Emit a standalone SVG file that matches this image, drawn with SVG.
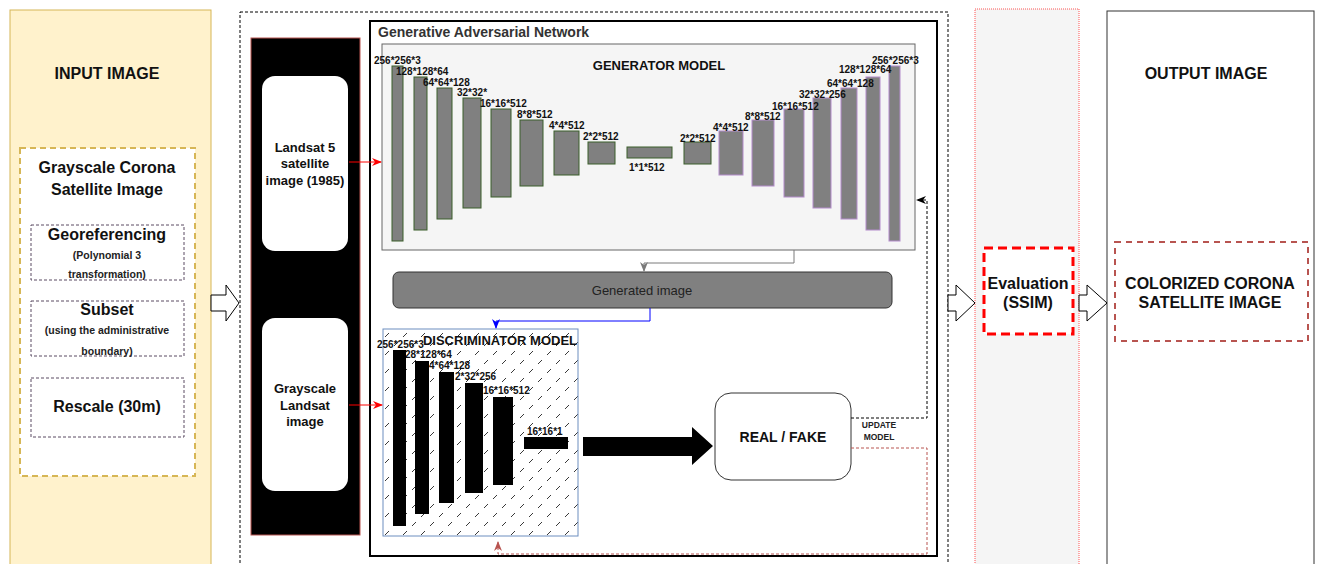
<svg xmlns="http://www.w3.org/2000/svg" width="1319" height="564" viewBox="0 0 1319 564">
<defs>
<style>
text{font-family:"Liberation Sans",Arial,sans-serif;}
.t16{font-size:16px;font-weight:bold;fill:#111;text-anchor:middle}
.t14{font-size:14px;font-weight:bold;fill:#111;text-anchor:middle}
.t13{font-size:13px;font-weight:bold;fill:#111;text-anchor:middle}
.t10{font-size:10.5px;font-weight:bold;fill:#222;text-anchor:middle}
.dim{font-size:10px;font-weight:bold;fill:#111}
.enc{fill:#808080;stroke:#3b5e2b;stroke-width:1}
.dec{fill:#808080;stroke:#b48ccc;stroke-width:1}
.dbar{fill:#000}
.step{fill:none;stroke:#5b4a63;stroke-width:1;stroke-dasharray:3,2}
.hollow{fill:#fff;stroke:#000;stroke-width:1}
.wbox{fill:#fff;stroke:none}
</style>
<pattern id="hatch" patternUnits="userSpaceOnUse" x="383" y="329" width="18" height="18">
<line x1="2" y1="8" x2="6" y2="4" stroke="#222" stroke-width="0.9"/>
<line x1="11" y1="17" x2="15" y2="13" stroke="#222" stroke-width="0.9"/>
</pattern>
<marker id="mRed" viewBox="0 0 10 10" refX="9" refY="5" markerWidth="10" markerHeight="10" markerUnits="userSpaceOnUse" orient="auto"><path d="M0,1 L10,5 L0,9 L3,5 Z" fill="#ff0000"/></marker>
<marker id="mGray" viewBox="0 0 10 10" refX="9" refY="5" markerWidth="10" markerHeight="10" markerUnits="userSpaceOnUse" orient="auto"><path d="M0,1 L10,5 L0,9 L3,5 Z" fill="#7a7a7a"/></marker>
<marker id="mBlue" viewBox="0 0 10 10" refX="9" refY="5" markerWidth="10" markerHeight="10" markerUnits="userSpaceOnUse" orient="auto"><path d="M0,1 L10,5 L0,9 L3,5 Z" fill="#0000ff"/></marker>
<marker id="mBlack" viewBox="0 0 10 10" refX="9" refY="5" markerWidth="10" markerHeight="10" markerUnits="userSpaceOnUse" orient="auto"><path d="M0,1 L10,5 L0,9 L3,5 Z" fill="#000"/></marker>
<marker id="mBrown" viewBox="0 0 10 10" refX="9" refY="5" markerWidth="10" markerHeight="10" markerUnits="userSpaceOnUse" orient="auto"><path d="M0,1 L10,5 L0,9 L3,5 Z" fill="#b85450"/></marker>
</defs>
<rect x="0" y="0" width="1319" height="564" fill="#fff"/>

<g id="input-image">
<rect x="10" y="10" width="201" height="570" fill="#fff2cc" stroke="#d6b656" stroke-width="1"/>
<text class="t16" x="107" y="79">INPUT IMAGE</text>
<rect x="20" y="148" width="175" height="328" fill="#fff" stroke="#d6b656" stroke-width="2" stroke-dasharray="6,4"/>
<text class="t16" x="107" y="173">Grayscale Corona</text>
<text class="t16" x="107" y="195">Satellite Image</text>
<rect class="step" x="31" y="225" width="153" height="55"/>
<text class="t16" x="107" y="240">Georeferencing</text>
<text class="t10" x="107" y="259">(Polynomial 3</text>
<text class="t10" x="107" y="278">transformation)</text>
<rect class="step" x="31" y="301" width="153" height="55"/>
<text class="t16" x="107" y="315">Subset</text>
<text class="t10" x="107" y="334">(using the administrative</text>
<text class="t10" x="107" y="355">boundary)</text>
<rect class="step" x="31" y="378" width="153" height="59"/>
<text class="t16" x="107" y="412">Rescale (30m)</text>
</g>

<g id="gan-stage">
<rect x="240" y="12" width="708" height="570" fill="none" stroke="#000" stroke-width="1" stroke-dasharray="3,2"/>
</g>

<g id="inputs">
<rect x="251" y="38" width="109" height="497" fill="#000" stroke="#b85450" stroke-width="1"/>
<rect class="wbox" x="262" y="76" width="86" height="175" rx="13"/>
<text class="t13" x="305" y="152">Landsat 5</text>
<text class="t13" x="305" y="168">satellite</text>
<text class="t13" x="305" y="185">image (1985)</text>
<rect class="wbox" x="262" y="318" width="86" height="173" rx="13"/>
<text class="t13" x="305" y="393">Grayscale</text>
<text class="t13" x="305" y="410">Landsat</text>
<text class="t13" x="305" y="426">image</text>
</g>

<g id="gan">
<rect x="370" y="21" width="567" height="535" fill="#fff" stroke="#000" stroke-width="2"/>
<text x="378" y="37" style="font-size:14px;font-weight:bold;fill:#333">Generative Adversarial Network</text>
</g>

<g id="generator">
<rect x="382" y="44" width="533" height="206" fill="#f5f5f5" stroke="#666" stroke-width="1"/>
<text class="t13" x="659" y="70">GENERATOR MODEL</text>
<rect class="enc" x="392" y="66" width="11" height="175"/>
<rect class="enc" x="414" y="77" width="13" height="153"/>
<rect class="enc" x="437" y="88" width="15" height="131"/>
<rect class="enc" x="463" y="98" width="18" height="110"/>
<rect class="enc" x="491" y="109" width="20" height="88"/>
<rect class="enc" x="520" y="120" width="23" height="66"/>
<rect class="enc" x="554" y="131" width="25" height="44"/>
<rect class="enc" x="588" y="142" width="27" height="22"/>
<rect class="enc" x="627" y="147" width="45" height="11"/>
<rect class="enc" x="684" y="142" width="27" height="22"/>
<rect class="dec" x="719" y="131" width="24" height="44"/>
<rect class="dec" x="752" y="120" width="22" height="66"/>
<rect class="dec" x="784" y="109" width="20" height="88"/>
<rect class="dec" x="813" y="98" width="18" height="110"/>
<rect class="dec" x="841" y="88" width="16" height="131"/>
<rect class="dec" x="866" y="77" width="14" height="153"/>
<rect class="dec" x="889" y="66" width="11" height="175"/>
<text class="dim" x="374" y="64">256*256*3</text>
<text class="dim" x="396" y="75">128*128*64</text>
<text class="dim" x="423" y="86">64*64*128</text>
<text class="dim" x="457" y="96">32*32*</text>
<text class="dim" x="480" y="107">16*16*512</text>
<text class="dim" x="517" y="118">8*8*512</text>
<text class="dim" x="549" y="129">4*4*512</text>
<text class="dim" x="583" y="140">2*2*512</text>
<text class="dim" x="629" y="171">1*1*512</text>
<text class="dim" x="680" y="142">2*2*512</text>
<text class="dim" x="713" y="131">4*4*512</text>
<text class="dim" x="745" y="120">8*8*512</text>
<text class="dim" x="772" y="110">16*16*512</text>
<text class="dim" x="799" y="98">32*32*256</text>
<text class="dim" x="827" y="87">64*64*128</text>
<text class="dim" x="839" y="73">128*128*64</text>
<text class="dim" x="872" y="64">256*256*3</text>
</g>

<g id="generated-image">
<rect x="393" y="272" width="499" height="36" rx="6" fill="#808080" stroke="#333" stroke-width="1"/>
<text x="642" y="295" style="font-size:13px;fill:#222;text-anchor:middle">Generated image</text>
</g>

<g id="discriminator">
<rect x="383" y="329" width="195" height="207" fill="#fff" stroke="none"/>
<rect x="383" y="329" width="195" height="207" fill="url(#hatch)" stroke="#6c8ebf" stroke-width="1"/>
<text class="t13" x="500" y="345">DISCRIMINATOR MODEL</text>
<text class="dim" x="377" y="348">256*256*3</text>
<text class="dim" x="405" y="358">28*128*64</text>
<text class="dim" x="429" y="369">4*64*128</text>
<text class="dim" x="455" y="380">2*32*256</text>
<text class="dim" x="483" y="394">16*16*512</text>
<text class="dim" x="527" y="435">16*16*1</text>
<rect class="dbar" x="393" y="350" width="13" height="176"/>
<rect class="dbar" x="415" y="361" width="14" height="153"/>
<rect class="dbar" x="439" y="372" width="15" height="131"/>
<rect class="dbar" x="465" y="383" width="18" height="110"/>
<rect class="dbar" x="493" y="397" width="20" height="88"/>
<rect class="dbar" x="524" y="437" width="44" height="12"/>
</g>

<g id="real-fake">
<rect x="715" y="393" width="136" height="87" rx="16" fill="#fff" stroke="#333" stroke-width="1"/>
<text class="t14" x="783" y="442">REAL / FAKE</text>
</g>

<g id="evaluation">
<rect x="975" y="9" width="104" height="570" fill="#f5f5f5" stroke="#ff5555" stroke-width="1" stroke-dasharray="1,1"/>
<rect x="984" y="248" width="89" height="86" fill="#fff" stroke="#ff0000" stroke-width="3" stroke-dasharray="9,5"/>
<text class="t16" x="1028" y="289">Evaluation</text>
<text class="t16" x="1028" y="308">(SSIM)</text>
</g>

<g id="output">
<rect x="1107" y="11" width="207" height="570" fill="#fff" stroke="#333" stroke-width="1"/>
<text class="t16" x="1206" y="79">OUTPUT IMAGE</text>
<rect x="1115" y="242" width="193" height="99" fill="#fff" stroke="#b85450" stroke-width="2" stroke-dasharray="6,5"/>
<text class="t16" x="1210" y="289">COLORIZED CORONA</text>
<text class="t16" x="1210" y="308">SATELLITE IMAGE</text>
</g>

<g id="connectors">
<path class="hollow" d="M211,295 H226 V285 L239,303 L226,321 V311 H211 Z"/>
<path class="hollow" d="M948,295 H956 V285 L975,303 L956,321 V311 H948 Z"/>
<path class="hollow" d="M1079,295 H1087 V285 L1107,303 L1087,321 V311 H1079 Z"/>
<line x1="349" y1="162" x2="381" y2="162" stroke="#ff0000" stroke-width="1" marker-end="url(#mRed)"/>
<line x1="349" y1="405" x2="382" y2="405" stroke="#ff0000" stroke-width="1" marker-end="url(#mRed)"/>
<path d="M794,250 V263 H644 V271" fill="none" stroke="#7a7a7a" stroke-width="1" marker-end="url(#mGray)"/>
<path d="M650,308 V321 H496 V328" fill="none" stroke="#0000ff" stroke-width="1" marker-end="url(#mBlue)"/>
<polygon points="583,437 692,437 692,427 713,446 692,465 692,456 583,456" fill="#000"/>
<path d="M851,418 H927 V200 H917" fill="none" stroke="#000" stroke-width="1" stroke-dasharray="3,2" marker-end="url(#mBlack)"/>
<path d="M851,448 H927 V554 H498 V542" fill="none" stroke="#b85450" stroke-width="1" stroke-dasharray="3,2" marker-end="url(#mBrown)"/>
<text x="879" y="428" style="font-size:8.5px;font-weight:bold;fill:#222;text-anchor:middle">UPDATE</text>
<text x="879" y="440" style="font-size:8.5px;font-weight:bold;fill:#222;text-anchor:middle">MODEL</text>
</g>
</svg>
